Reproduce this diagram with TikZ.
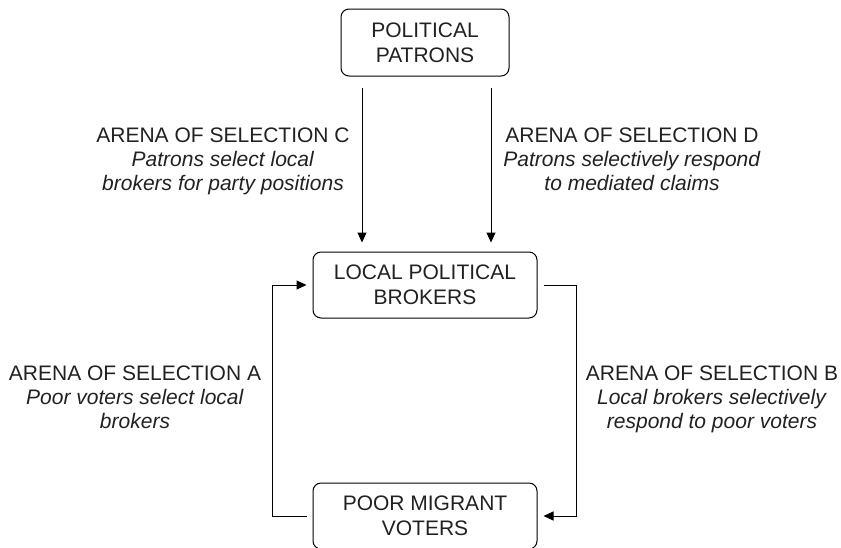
\documentclass[tikz,border=0pt]{standalone}
\usepackage{fontspec}
\setmainfont{Liberation Sans}
\usetikzlibrary{arrows.meta,calc}
\begin{document}
\begin{tikzpicture}[x=1pt,y=-1pt,
  box/.style={draw, rounded corners=8pt, line width=1pt, minimum width=224pt, minimum height=66pt, align=center, inner sep=0pt, font=\fontsize{21}{25}\selectfont, text=black!87},
  lab/.style={align=center, inner sep=0pt, anchor=north, font=\fontsize{21}{24}\selectfont, text=black!87},
  arr/.style={line width=1pt, -{Triangle[length=10pt,width=9pt]}}]
\useasboundingbox (0,0) rectangle (841,547);
\clip (0,0) rectangle (841,547);
\node[box, minimum width=168pt, minimum height=67pt] (top) at (425,42.5) {POLITICAL\\PATRONS};
\node[box] (mid) at (425,285) {LOCAL POLITICAL\\BROKERS};
\node[box] (bot) at (425,516) {POOR MIGRANT\\VOTERS};
\draw[arr, shorten <=11pt, shorten >=9pt] ([xshift=-63pt]top.south) -- ([xshift=-63pt]mid.north);
\draw[arr, shorten <=11pt, shorten >=9pt] ([xshift=66pt]top.south) -- ([xshift=66pt]mid.north);
\draw[arr, shorten <=6pt, shorten >=6pt] (bot.west) -- ++(-40,0) |- (mid.west);
\draw[arr, shorten <=6pt, shorten >=6pt] (mid.east) -- ++(39,0) |- (bot.east);
\node[lab] (lc) at (223,128) {ARENA OF SELECTION C\\\textit{Patrons select local}\\\textit{brokers for party positions}};
\node[lab] (ld) at (632,128) {ARENA OF SELECTION D\\\textit{Patrons selectively respond}\\\textit{to mediated claims}};
\node[lab] (la) at (135,366) {ARENA OF SELECTION A\\\textit{Poor voters select local}\\\textit{brokers}};
\node[lab] (lb) at (712,366) {ARENA OF SELECTION B\\\textit{Local brokers selectively}\\\textit{respond to poor voters}};
\end{tikzpicture}
\end{document}
